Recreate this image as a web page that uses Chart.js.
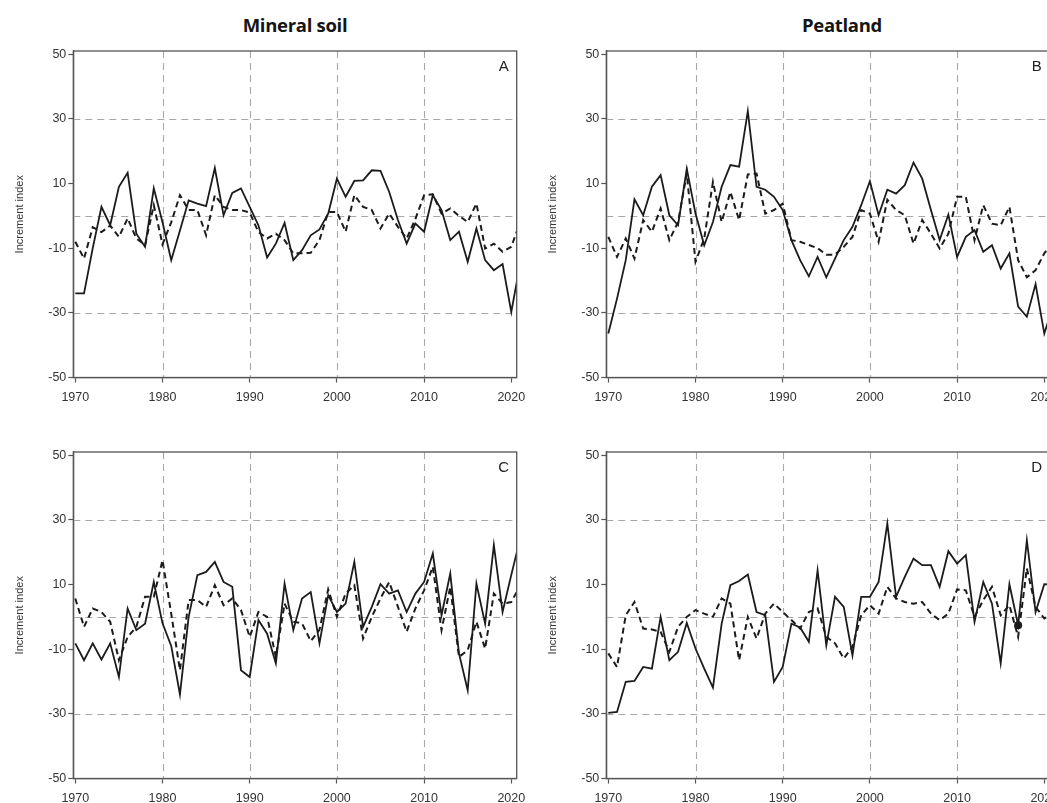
<!DOCTYPE html>
<html>
<head>
<meta charset="utf-8">
<script src="https://cdn.jsdelivr.net/npm/chart.js@4"></script>
<style>
  html, body { margin: 0; padding: 0; background: #fff; }
  #page { position: relative; width: 1047px; height: 803px; overflow: hidden; }
  canvas { position: absolute; }
  .head { position: absolute; top: 14px; line-height: 22px; font-family: "Open Sans", sans-serif; font-weight: 700;
          font-size: 18.5px; color: #151515; transform: translateX(-50%); white-space: nowrap; letter-spacing: -0.3px; }
</style>
</head>
<body>
<div id="page">
  <div class="head" style="left:295px">Mineral soil</div>
  <div class="head" style="left:842px">Peatland</div>
  <canvas id="panelA" width="535" height="390" style="left:0;top:40px"></canvas>
  <canvas id="panelB" width="535" height="390" style="left:533.4px;top:40px"></canvas>
  <canvas id="panelC" width="535" height="390" style="left:0;top:440.7px"></canvas>
  <canvas id="panelD" width="535" height="390" style="left:533.4px;top:440.7px"></canvas>
</div>
<script>
// years 1970-2021, the 2021 point is clipped by the axis end
const years = [1970, 1971, 1972, 1973, 1974, 1975, 1976, 1977, 1978, 1979,
               1980, 1981, 1982, 1983, 1984, 1985, 1986, 1987, 1988, 1989,
               1990, 1991, 1992, 1993, 1994, 1995, 1996, 1997, 1998, 1999,
               2000, 2001, 2002, 2003, 2004, 2005, 2006, 2007, 2008, 2009,
               2010, 2011, 2012, 2013, 2014, 2015, 2016, 2017, 2018, 2019,
               2020, 2021];
const xTicks = [1970, 1980, 1990, 2000, 2010, 2020];
const yTicks = [-50, -30, -10, 10, 30, 50];
const gridYears = [1980, 1990, 2000, 2010];
const gridLevels = [-30, 0, 30];

// A: mineral soil, top row
const aSolid = [-24, -24, -10, 2.8, -2.9, 9, 13.3, -5.5, -9.6, 8.5,
                -2, -13.7, -4.5, 4.8, 3.8, 3, 14.8, 0.2, 7.1, 8.5,
                2.8, -2.9, -12.9, -8.6, -2.2, -13.7, -10.6, -6, -4.2, 0.7,
                11.5, 5.9, 10.8, 11, 14.1, 13.9, 7.4, -1.3, -8.6, -2.4,
                -4.9, 6.4, 1.8, -7.5, -4.9, -14.2, -3.9, -13.7, -16.8, -14.9,
                -29.7, -15];
const aDashed = [-8, -13.2, -3.5, -5, -3, -6.5, -0.8, -7, -9, 3.3,
                 -8.8, -2, 6.4, 1.8, 1.8, -6, 6.4, 2.8, 1.8, 1.8,
                 1, -5, -7, -5.5, -7.5, -11.6, -11.6, -11.4, -7.5, 1.2,
                 1.2, -4.9, 6.4, 2.8, 1.8, -3.9, 0.7, -3.4, -7, -1,
                 6.4, 6.7, 0.7, 2.3, 0, -1.9, 3.8, -10.1, -8.6, -11.1,
                 -9.6, -2];

// B: peatland, top row
const bSolid = [-36.4, -25.6, -13.7, 5.1, 0.2, 9, 12.6, 0.2, -2.9, 14.6,
                0.7, -9.1, -1.9, 9, 15.7, 15.2, 32.4, 9, 8.1, 5.9,
                1.8, -7.5, -13.7, -18.7, -12.7, -19, -13.2, -7.5, -3.4, 3.3,
                10.7, 0.2, 8.1, 6.9, 9.5, 16.5, 11.5, 1.8, -7.5, 0.4,
                -12.7, -6.5, -4.4, -11.1, -9.1, -16.3, -11.6, -28.1, -31.2, -21.1,
                -36.4, -28];
const bDashed = [-6.5, -12.7, -7, -13.2, -1.3, -4.9, 2.3, -7.5, -1.9, 13.1,
                 -14.2, -7, 10.5, -1.9, 7.4, -1.3, 12.8, 13.1, 0.7, 1.8,
                 3.8, -7.5, -8, -9, -10, -12, -12, -9.6, -6.5, 1.8,
                 0.7, -8, 5, 1.8, 0.2, -8.6, -1.3, -5.5, -10.1, -5.5,
                 5.9, 5.9, -7.5, 3.3, -2.4, -2.9, 2.8, -13.7, -19, -16.8,
                 -11.6, -8];

// C: mineral soil, bottom row
const cSolid = [-8.2, -13.4, -8.2, -13.2, -8.2, -18.6, 2.6, -4.1, -2.1, 10.8,
                -2, -9, -24, 0, 12.9, 13.9, 17, 10.8, 9.3, -16.5,
                -18.6, -1, -5.2, -14.4, 10.3, -4.1, 5.7, 7.7, -8.2, 6.7,
                1.5, 4.1, 17, -3.1, 3.1, 10.1, 7.2, 8.2, 1.5, 7.2,
                10.8, 19.6, 0.5, 13.4, -11.3, -22.7, 10.3, -2.1, 22.2, 1.5,
                13, 24];
const cDashed = [5.7, -3.1, 2.6, 1.5, -1.5, -13.4, -6.2, -3.1, 6.2, 6.2,
                 17.5, 1, -16.5, 5.2, 5.2, 3.1, 9.8, 3.6, 5.7, 2.1,
                 -6.2, 1.5, 0, -12.4, 4.1, -1.5, -2, -7.5, -4, 8.5,
                 0, 7.2, 9.8, -6.7, 0, 5.7, 10.8, 3.1, -4.6, 2.6,
                 8.2, 15.5, -4.1, 9.3, -12.4, -10.3, -1.5, -9.8, 7.2, 4.1,
                 4.6, 9.6];

// D: peatland, bottom row
const dSolid = [-29.7, -29.4, -20.1, -19.8, -15.5, -16, 0, -13.4, -10.8, -1.9,
                -9.8, -16, -21.9, -2.1, 9.8, 11.1, 13.1, 1.5, 0.5, -20.1,
                -15.5, -2.1, -3.3, -7.7, 14.4, -8.8, 6.2, 3.1, -11.9, 6.2,
                6.2, 10.8, 28.9, 6.2, 12.4, 18, 16, 16, 9.3, 20.3,
                16.5, 19.1, -1.5, 10.8, 4.1, -14.4, 10.1, -2.6, 23.7, 1.5,
                10.1, 10];
const dDashed = [-11.3, -15.5, 0.5, 4.6, -3.6, -3.9, -4.6, -10.8, -3.1, 0,
                 2.1, 1, 0, 5.7, 4.1, -13.4, 0, -6.7, 1, 4.1,
                 1.5, -1, -3.6, 1.5, 2.6, -6.2, -8.2, -12.9, -9.3, 0.5,
                 3.6, 1, 9.3, 5.7, 4.6, 4.1, 4.6, 1, -1, 1,
                 8.5, 8.2, 0, 5.2, 9.3, 0.5, 3.6, -6.2, 15, 3.1,
                 -0.5, 1];
const dMarkYears = [2017];

Chart.defaults.font.family = '"Liberation Sans", Arial, sans-serif';
Chart.defaults.color = '#333';

const framePlugin = {
  id: 'frame',
  beforeDatasetsDraw(chart) {
    const { ctx, chartArea: a, scales: { x, y } } = chart;
    ctx.save();
    ctx.strokeStyle = '#a8a8a8';
    ctx.lineWidth = 1.1;
    ctx.setLineDash([7, 5]);
    ctx.beginPath();
    gridYears.forEach(v => {
      const px = Math.round(x.getPixelForValue(v)) + 0.5;
      ctx.moveTo(px, a.top); ctx.lineTo(px, a.bottom);
    });
    gridLevels.forEach(v => {
      const py = Math.round(y.getPixelForValue(v)) + 0.5;
      ctx.moveTo(a.left, py); ctx.lineTo(a.right, py);
    });
    ctx.stroke();
    ctx.restore();
  },
  afterDatasetsDraw(chart, args, opts) {
    const { ctx, chartArea: a } = chart;
    ctx.save();
    ctx.strokeStyle = '#555';
    ctx.lineWidth = 1.3;
    ctx.strokeRect(a.left, a.top, a.right - a.left, a.bottom - a.top);
    ctx.fillStyle = '#222';
    ctx.font = '15px "Liberation Sans", Arial, sans-serif';
    ctx.textAlign = 'center';
    ctx.textBaseline = 'middle';
    ctx.fillText(opts.letter, a.right - 13, a.top + 16);
    ctx.restore();
  }
};

function panel(id, solid, dashed, letter, markYears) {
  new Chart(document.getElementById(id), {
    type: 'line',
    data: {
      datasets: [
        {
          data: years.map((x, i) => ({ x, y: solid[i] })),
          borderColor: '#1b1b1b',
          borderWidth: 1.8,
          pointRadius: c => (c.raw && markYears.includes(c.raw.x)) ? 4 : 0,
          pointBackgroundColor: '#1b1b1b',
          pointBorderWidth: 0,
          tension: 0
        },
        {
          data: years.map((x, i) => ({ x, y: dashed[i] })),
          borderColor: '#1b1b1b',
          borderWidth: 2,
          borderDash: [6, 4],
          pointRadius: 0,
          tension: 0
        }
      ]
    },
    options: {
      responsive: false,
      animation: false,
      layout: { padding: { top: 11, right: 18.3, left: 0, bottom: 0 } },
      plugins: { legend: { display: false }, tooltip: { enabled: false }, frame: { letter } },
      scales: {
        x: {
          type: 'linear', min: 1969.77, max: 2020.62,
          afterBuildTicks: s => { s.ticks = xTicks.map(v => ({ value: v })); },
          afterFit: s => { s.height = 52.5; },
          grid: { drawOnChartArea: false, drawTicks: true, tickLength: 5, tickColor: '#555', tickWidth: 1.2 },
          border: { color: '#555', width: 1.3 },
          ticks: { padding: 8, color: '#333', font: { size: 12.5 }, maxRotation: 0, autoSkip: false,
                   callback: v => String(v) }
        },
        y: {
          min: -50, max: 51,
          afterBuildTicks: s => { s.ticks = yTicks.map(v => ({ value: v })); },
          afterFit: s => { s.width = 73.3; },
          grid: { drawOnChartArea: false, drawTicks: true, tickLength: 5, tickColor: '#555', tickWidth: 1.2 },
          border: { color: '#555', width: 1.3 },
          ticks: { padding: 2, color: '#333', font: { size: 12.5 }, callback: v => String(v) },
          title: { display: true, text: 'Increment index', color: '#333', font: { size: 11 },
                   padding: { top: 13, bottom: 0 } }
        }
      }
    },
    plugins: [framePlugin]
  });
}

panel('panelA', aSolid, aDashed, 'A', []);
panel('panelB', bSolid, bDashed, 'B', []);
panel('panelC', cSolid, cDashed, 'C', []);
panel('panelD', dSolid, dDashed, 'D', dMarkYears);
</script>
</body>
</html>
